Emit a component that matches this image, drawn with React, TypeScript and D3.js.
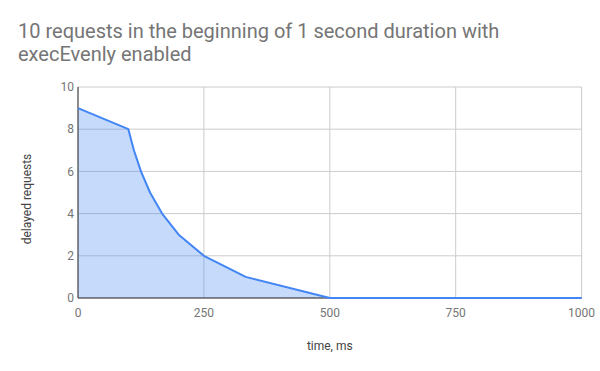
import * as d3 from "d3";

const timesMs = [0, 100, 111, 125, 143, 167, 200, 250, 333, 500, 1000];
const delayedRequests = [9, 8, 7, 6, 5, 4, 3, 2, 1, 0, 0];
const xTicks = [0, 250, 500, 750, 1000];
const yTicks = [0, 2, 4, 6, 8, 10];
const titleLines = ["10 requests in the beginning of 1 second duration with", "execEvenly enabled"];

const W = 600;
const H = 371;
const left = 78;
const right = 581.6;
const top = 87;
const bottom = 298;

const App = () => {
  const x = d3.scaleLinear().domain([0, 1000]).range([left, right]);
  const y = d3.scaleLinear().domain([0, 10]).range([bottom, top]);
  const pts = timesMs.map((t, i) => [t, delayedRequests[i]] as [number, number]);
  const line = d3.line<[number, number]>().x(d => x(d[0])).y(d => y(d[1]));
  const area = d3.area<[number, number]>().x(d => x(d[0])).y0(y(0)).y1(d => y(d[1]));
  const font = "Roboto, Arial, sans-serif";

  return (
    <svg width={W} height={H} style={{ position: "absolute", left: 0, top: 0, background: "#fff" }}>
      <rect width={W} height={H} fill="#fff" />
      {titleLines.map((t, i) => (
        <text key={t} x={18} y={38 + i * 22.5} fontFamily={font} fontSize={20} fill="#757575">{t}</text>
      ))}
      {yTicks.map(v => (
        <line key={"gy" + v} x1={left} x2={right} y1={y(v)} y2={y(v)} stroke="#cccccc" strokeWidth={1} />
      ))}
      {xTicks.map(v => (
        <line key={"gx" + v} x1={x(v)} x2={x(v)} y1={top} y2={bottom} stroke="#cccccc" strokeWidth={1} />
      ))}
      <path d={area(pts) || ""} fill="#4285f4" fillOpacity={0.3} />
      <line x1={left} x2={right} y1={y(0)} y2={y(0)} stroke="#333" strokeWidth={1} />
      <line x1={left} x2={left} y1={top} y2={bottom} stroke="#333" strokeWidth={1} />
      <path d={line(pts) || ""} fill="none" stroke="#4285f4" strokeWidth={2} strokeLinejoin="round" />
      {yTicks.map(v => (
        <text key={"ty" + v} x={left - 4} y={y(v)} dy="0.35em" textAnchor="end" fontFamily={font} fontSize={12} fill="#757575">{v}</text>
      ))}
      {xTicks.map(v => (
        <text key={"tx" + v} x={x(v)} y={317} textAnchor="middle" fontFamily={font} fontSize={12} fill="#757575">{v}</text>
      ))}
      <text x={x(500)} y={350} textAnchor="middle" fontFamily={font} fontSize={12} fill="#444">time, ms</text>
      <text transform={`translate(31,199) rotate(-90)`} textAnchor="middle" fontFamily={font} fontSize={12} fill="#444">delayed requests</text>
    </svg>
  );
};

export default App;
